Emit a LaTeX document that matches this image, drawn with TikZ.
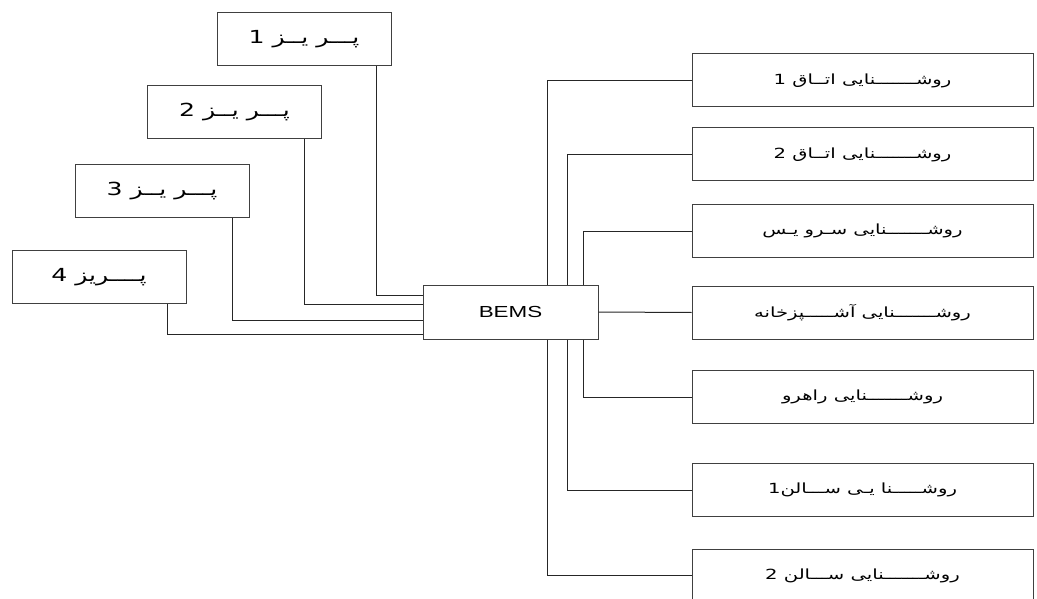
\documentclass[tikz,border=0pt]{standalone}
\usepackage{fontspec}
\setmainfont{Liberation Sans}
\newfontfamily\farsi[Script=Arabic]{DejaVu Sans}
\TeXXeTstate=1
\newcommand{\widetxt}[1]{\scalebox{1.4}[1]{#1}}
\newcommand{\fa}[1]{\widetxt{\beginR #1\endR}}
\begin{document}
\begin{tikzpicture}[x=1pt, y=-1pt,
    box/.style={draw=black!75, line width=1pt, minimum height=53pt, inner sep=0pt},
    plug/.style={box, minimum width=174pt, font=\farsi\fontsize{18}{20}\selectfont},
    lamp/.style={box, minimum width=341pt, font=\farsi\fontsize{14}{16}\selectfont},
    wire/.style={black!85, line width=1pt}]

    \useasboundingbox (0,0) rectangle (1037,599);
    \fill[white] (0,0) rectangle (1037,599);

    %BEMS
    \node[box, minimum width=175pt, minimum height=54pt, font=\fontsize{16}{18}\selectfont] (bems) at (510.5,312) {\widetxt{BEMS}};

    %prises
    \node[plug] (p1) at (304,39.5) {\fa{پـــر یــز 1}};
    \node[plug] (p2) at (234.5,112) {\fa{پـــر یــز 2}};
    \node[plug] (p3) at (162,191) {\fa{پـــر یــز 3}};
    \node[plug] (p4) at (99,277) {\fa{پــــریز 4}};

    %eclairage
    \node[lamp] (r1) at (862.5,80.5) {\fa{روشـــــــنایی اتــاق 1}};
    \node[lamp] (r2) at (862.5,154.5) {\fa{روشـــــــنایی اتــاق 2}};
    \node[lamp] (r3) at (862.5,231) {\fa{روشـــــــنایی سـرو یـس}};
    \node[lamp] (r4) at (862.5,312.5) {\fa{روشـــــــنایی آشـــــپزخانه}};
    \node[lamp] (r5) at (862.5,397) {\fa{روشـــــــنایی راهرو}};
    \node[lamp] (r6) at (862.5,490) {\fa{روشـــــنا یـی ســـالن1}};
    \node[lamp] (r7) at (862.5,575.5) {\fa{روشـــــــنایی ســـالن 2}};

    %fils prises
    \draw[wire] ([xshift=-15pt]p1.south east) |- ([yshift=17pt]bems.west);
    \draw[wire] ([xshift=-18pt]p2.south east) |- ([yshift=8pt]bems.west);
    \draw[wire] ([xshift=-17pt]p3.south east) |- ([yshift=-8pt]bems.west);
    \draw[wire] ([xshift=-19pt]p4.south east) |- ([yshift=-22pt]bems.west);

    %fils eclairage
    \draw[wire] ([xshift=-51pt]bems.north east) |- (r1.west);
    \draw[wire] ([xshift=-31pt]bems.north east) |- (r2.west);
    \draw[wire] ([xshift=-15pt]bems.north east) |- (r3.west);
    \draw[wire] (bems.east) -- (r4.west);
    \draw[wire] ([xshift=-15pt]bems.south east) |- (r5.west);
    \draw[wire] ([xshift=-31pt]bems.south east) |- (r6.west);
    \draw[wire] ([xshift=-51pt]bems.south east) |- (r7.west);

\end{tikzpicture}
\end{document}
